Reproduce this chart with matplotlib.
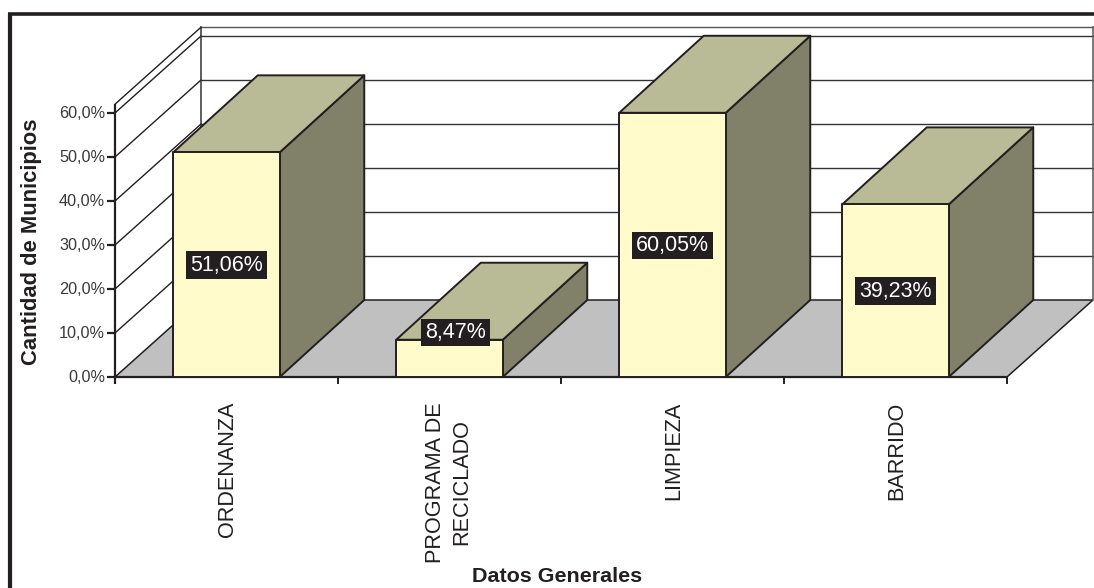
import matplotlib
matplotlib.use("Agg")
import matplotlib.pyplot as plt
from matplotlib.lines import Line2D
from matplotlib.patches import Polygon

plt.rcParams['font.family'] = ['Liberation Sans', 'DejaVu Sans']

categories = ["ORDENANZA", "PROGRAMA DE\nRECICLADO", "LIMPIEZA", "BARRIDO"]
values = [51.06, 8.47, 60.05, 39.23]
value_labels = ["51,06%", "8,47%", "60,05%", "39,23%"]
y_ticks = [0, 10, 20, 30, 40, 50, 60]
y_tick_labels = ["0,0%", "10,0%", "20,0%", "30,0%", "40,0%", "50,0%", "60,0%"]
y_max = 62.0

W, H = 1094, 588
PX_X, PX_Y = 223.0, 4.4          # pixels per category / per percentage point
X0, Y0 = 115.0, 377.0            # pixel position of the front-left floor corner
DEPTH_X, DEPTH_Y = 86 / PX_X, 77 / PX_Y   # oblique depth in data units
BAR_DEPTH_X = 84.5 / PX_X
BAR_W = 106.5 / PX_X

INK = '#231f20'
FRONT, TOP, SIDE = '#fffbca', '#b9bb96', '#81816a'
FLOOR = '#c0c0c0'

fig = plt.figure(figsize=(W / 100, H / 100), dpi=100, facecolor='white')
ax = fig.add_axes([0, 0, 1, 1])
ax.set_xlim(-X0 / PX_X, (W - X0) / PX_X)
ax.set_ylim((Y0 - H) / PX_Y, Y0 / PX_Y)
ax.axis('off')

n = len(categories)

# Outer frame: only the top and left edges fall inside the figure
fig.add_artist(Line2D([10.4 / W, 10.4 / W], [0, 1 - 12.6 / H], color=INK, lw=3.0,
                      solid_capstyle='butt'))
fig.add_artist(Line2D([8.3 / W, 1], [1 - 14.4 / H, 1 - 14.4 / H], color=INK, lw=2.6,
                      solid_capstyle='butt'))

# Floor
ax.add_patch(Polygon([(0, 0), (n, 0), (n + DEPTH_X, DEPTH_Y), (DEPTH_X, DEPTH_Y)],
                     closed=True, fc=FLOOR, ec=INK, lw=1.1, zorder=1))

# Back wall and side wall gridlines
for t in y_ticks[1:] + [y_max]:
    c = '#555555' if t == y_max else '#333333'
    ax.plot([DEPTH_X, n + DEPTH_X], [t + DEPTH_Y] * 2, color=c, lw=1.0, zorder=1)
    ax.plot([0, DEPTH_X], [t, t + DEPTH_Y], color=INK, lw=1.0, zorder=1)
ax.plot([DEPTH_X] * 2, [DEPTH_Y, y_max + DEPTH_Y], color='#333333', lw=1.1, zorder=1)
ax.plot([n + DEPTH_X] * 2, [DEPTH_Y, y_max + DEPTH_Y], color='#555555', lw=1.1, zorder=1)

# Axis lines and ticks
ax.plot([0, 0], [-7 / PX_Y, y_max], color=INK, lw=1.6, zorder=2, solid_capstyle='butt')
ax.plot([0, n], [0, 0], color=INK, lw=1.6, zorder=2, solid_capstyle='butt')
for t, lab in zip(y_ticks, y_tick_labels):
    ax.plot([-8 / PX_X, 0], [t, t], color=INK, lw=1.6, zorder=2, solid_capstyle='butt')
    ax.text(-10 / PX_X, t, lab, ha='right', va='center', fontsize=11.7, color='#3a3a3a')
for i in range(n + 1):
    ax.plot([i, i], [0, -7 / PX_Y], color=INK, lw=1.4, zorder=2, solid_capstyle='butt')

# Oblique bars, their value boxes and the category names
for i, (v, lab, cat) in enumerate(zip(values, value_labels, categories)):
    xc = i + 0.5
    l, r = xc - BAR_W / 2, xc + BAR_W / 2
    style = dict(closed=True, ec=INK, lw=1.4, joinstyle='round', zorder=3 + i)
    ax.add_patch(Polygon([(r, 0), (r + BAR_DEPTH_X, DEPTH_Y), (r + BAR_DEPTH_X, v + DEPTH_Y), (r, v)],
                         fc=SIDE, **style))
    ax.add_patch(Polygon([(l, v), (r, v), (r + BAR_DEPTH_X, v + DEPTH_Y), (l + BAR_DEPTH_X, v + DEPTH_Y)],
                         fc=TOP, **style))
    ax.add_patch(Polygon([(l, 0), (r, 0), (r, v), (l, v)], fc=FRONT, **style))

    # The shortest bar's box sits up over its top face so it stays readable
    offset = (6, 26) if v < 10 else (0, -0.5)
    ax.annotate(lab, (xc, v / 2), xytext=offset, textcoords='offset pixels',
                ha='center', va='center', fontsize=15.5, color='white', zorder=20,
                bbox=dict(boxstyle='square,pad=0.2', mutation_aspect=0.75, fc=INK, ec='none'))

    shift = -1 if '\n' in cat else 1
    ax.text(xc + shift / PX_X, -25 / PX_Y, cat, rotation=90,
            ha='center', va='top', multialignment='center',
            fontsize=15.6, color=INK, linespacing=1.33, zorder=5)

# Axis titles
ax.text(n / 2 - 0.016, -(576 - Y0) / PX_Y, "Datos Generales", ha='center', va='center',
        fontsize=15.45, fontweight='bold', color=INK)
ax.text(-84 / PX_X, (Y0 - 242) / PX_Y, "Cantidad de Municipios", rotation=90,
        ha='center', va='center', fontsize=15.8, fontweight='bold', color=INK)

fig.savefig('out.png', dpi=100, facecolor='white')
